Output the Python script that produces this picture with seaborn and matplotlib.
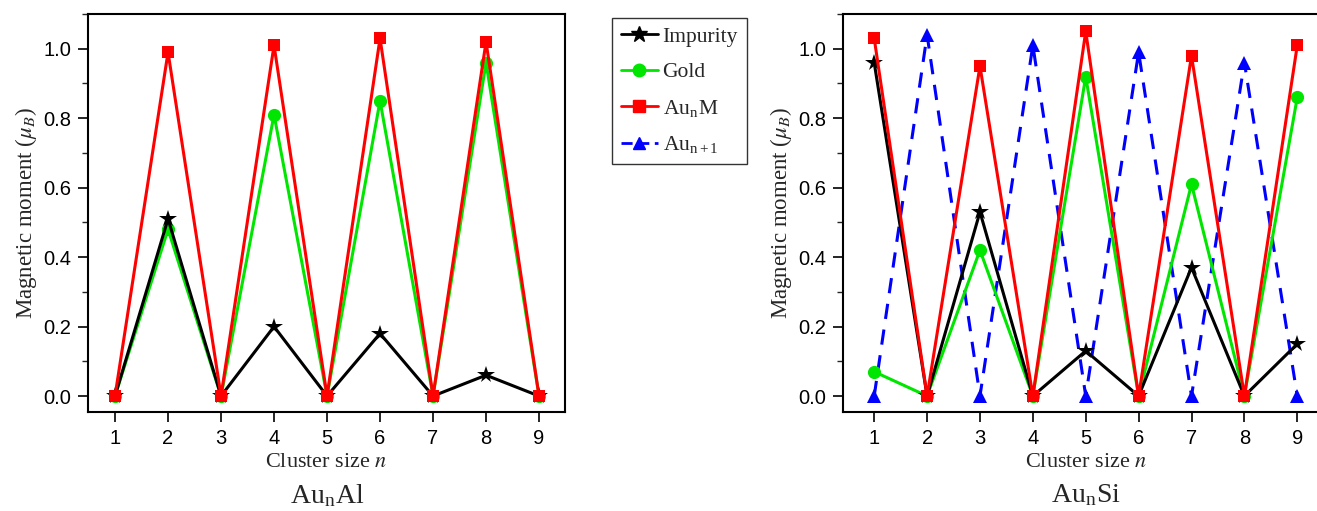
import numpy as np
import pandas as pd
import seaborn as sns
import matplotlib
matplotlib.use("Agg")
import matplotlib.pyplot as plt
from matplotlib.ticker import MultipleLocator
from matplotlib.lines import Line2D

sns.set_theme(style="white")
plt.rcParams['font.family'] = ['Liberation Sans', 'DejaVu Sans']
plt.rcParams['mathtext.fontset'] = 'stix'

# ---- data ----
n = [1, 2, 3, 4, 5, 6, 7, 8, 9]

al_impurity = [0.0, 0.51, 0.0, 0.20, 0.0, 0.18, 0.0, 0.06, 0.0]
al_gold = [0.0, 0.48, 0.0, 0.81, 0.0, 0.85, 0.0, 0.96, 0.0]
al_aunm = [0.0, 0.99, 0.0, 1.01, 0.0, 1.03, 0.0, 1.02, 0.0]

si_impurity = [0.96, 0.0, 0.53, 0.0, 0.13, 0.0, 0.37, 0.0, 0.15]
si_gold = [0.07, 0.0, 0.42, 0.0, 0.92, 0.0, 0.61, 0.0, 0.86]
si_aunm = [1.03, 0.0, 0.95, 0.0, 1.05, 0.0, 0.98, 0.0, 1.01]
si_aun1 = [0.0, 1.04, 0.0, 1.01, 0.0, 0.99, 0.0, 0.96, 0.0]

y_ticks = [0.0, 0.2, 0.4, 0.6, 0.8, 1.0]
titles = ["Au$_\\mathregular{n}$Al", "Au$_\\mathregular{n}$Si"]
legend_labels = ["Impurity", "Gold", "Au$_\\mathregular{n}$M", "Au$_\\mathregular{n+1}$"]

W, H = 1317, 511
fig = plt.figure(figsize=(W / 100, H / 100), dpi=100)

ax1 = fig.add_axes([88 / W, (H - 412) / H, (565 - 88) / W, (412 - 14) / H])
ax2 = fig.add_axes([843 / W, (H - 412) / H, (1329 - 843) / W, (412 - 14) / H])

serif = ['Liberation Serif', 'DejaVu Serif']

def style_line(ax, y, color, marker, ms, ls='-', z=2):
    sns.lineplot(x=n, y=y, ax=ax, color=color, marker=marker, markersize=ms,
                 linewidth=2.2, linestyle=ls, markeredgewidth=0,
                 markeredgecolor=color, zorder=z, legend=False)

# Left panel
style_line(ax1, al_impurity, 'black', '*', 13, z=3)
style_line(ax1, al_gold, '#00e600', 'o', 9.5, z=2)
style_line(ax1, al_aunm, '#ff0000', 's', 9, z=4)

# Right panel
style_line(ax2, si_aun1, '#0000ff', '^', 9.5, ls=(0, (5, 3.5)), z=1)
style_line(ax2, si_impurity, 'black', '*', 13, z=3)
style_line(ax2, si_gold, '#00e600', 'o', 9.5, z=2)
style_line(ax2, si_aunm, '#ff0000', 's', 9, z=4)

title_x = [327 / W, 1086 / W]
for ax, xl, title, tx in [(ax1, (0.49, 9.49), titles[0], title_x[0]),
                          (ax2, (0.41, 9.6), titles[1], title_x[1])]:
    ax.set_xlim(*xl)
    ax.set_ylim(-0.046, 1.10)
    ax.set_xticks(n)
    ax.set_yticks(y_ticks)
    ax.set_yticklabels([f"{v:.1f}" for v in y_ticks])
    ax.yaxis.set_minor_locator(MultipleLocator(0.1))
    ax.tick_params(axis='both', which='major', direction='out', length=7, width=1.2,
                   labelsize=14.5, colors='black', bottom=True, left=True, top=False,
                   right=False, pad=5)
    ax.tick_params(axis='y', which='minor', direction='out', length=4, width=1.0, left=True)
    for s in ax.spines.values():
        s.set_visible(True)
        s.set_color('black')
        s.set_linewidth(1.5)
    ax.set_xlabel("Cluster size $\\it{n}$", fontsize=16, family=serif, labelpad=4)
    ax.set_ylabel("Magnetic moment ($\\mu_B$)", fontsize=16.5, family=serif, labelpad=3)
    ax.set_facecolor('white')
    fig.text(tx, 1 - 496 / H, title, ha='center', va='center', fontsize=20, family=serif)

# Legend
handles = [
    Line2D([], [], color='black', marker='*', markersize=12, lw=2),
    Line2D([], [], color='#00e600', marker='o', markersize=9, lw=2),
    Line2D([], [], color='#ff0000', marker='s', markersize=9, lw=2),
    Line2D([], [], color='#0000ff', marker='^', markersize=9, lw=2, linestyle=(0, (4, 2))),
]
leg = fig.legend(handles, legend_labels, loc='upper left',
                 bbox_to_anchor=(612 / W, 1 - 18 / H), frameon=True, fancybox=False,
                 prop={'family': serif, 'size': 15.5}, handlelength=1.75,
                 labelspacing=0.72, borderpad=0.4, handletextpad=0.2,
                 borderaxespad=0)
leg.get_frame().set_edgecolor('black')
leg.get_frame().set_linewidth(1.0)

fig.savefig("out.png", dpi=100, facecolor='white')
